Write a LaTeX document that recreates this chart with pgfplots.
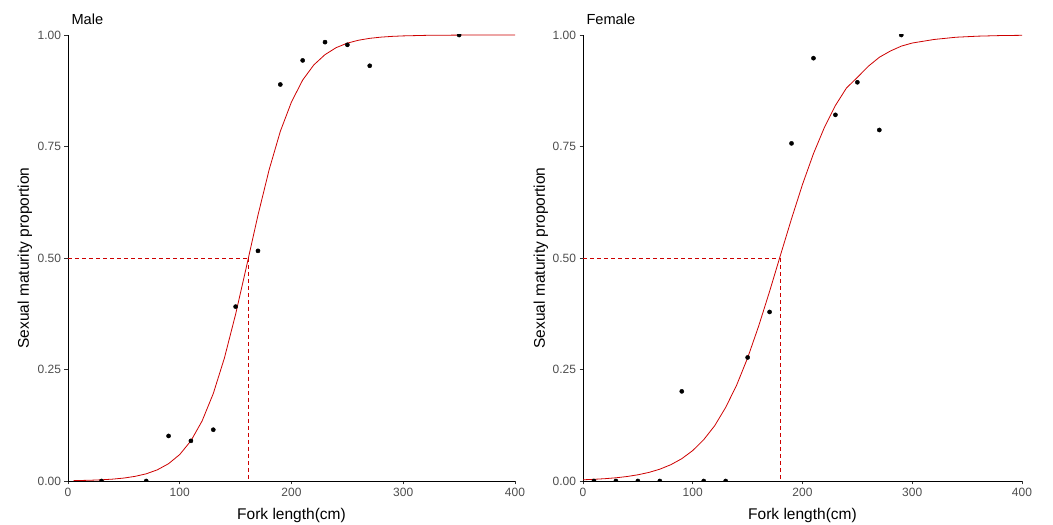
\documentclass[border=0pt]{standalone}
\usepackage{pgfplots}
\pgfplotsset{compat=1.18}
\usepackage{fontspec}
\setmainfont{Liberation Sans}
\definecolor{fitred}{RGB}{205,0,0}
\definecolor{ticktext}{RGB}{77,77,77}

\pgfplotsset{
  matpanel/.style={
    scale only axis, height=446pt,
    xmin=0, xmax=400, ymin=0, ymax=1,
    axis lines=left,
    axis line style={-, line width=0.8pt, black},
    tick align=outside, major tick length=3.5pt,
    tick style={line width=0.8pt, black!80},
    xtick={0,100,...,400}, ytick={0,0.25,0.5,0.75,1},
    /pgf/number format/assume math mode=true,
    y tick label style={/pgf/number format/.cd, fixed, fixed zerofill, precision=2, /tikz/.cd},
    ticklabel style={font=\fontsize{12}{14}\selectfont, text=ticktext},
    label style={font=\fontsize{15.5}{18}\selectfont},
    xlabel={Fork length(cm)}, ylabel={Sexual maturity proportion},
    xlabel style={at={(axis description cs:0.5,-0.0852)}, anchor=base},
    title style={font=\fontsize{14.6}{17}\selectfont, at={(axis description cs:0,1.011)}, anchor=base west},
    clip mode=individual, clip marker paths=true,
  }
}

\begin{document}
\begin{tikzpicture}
\useasboundingbox (0,0) rectangle (1053pt,525pt);

% Male
\begin{axis}[matpanel, width=447pt, at={(68pt,44pt)}, anchor=south west,
  title={Male},
  ylabel style={at={(axis description cs:-0.0873,0.5)}, anchor=base}]
\addplot[color=fitred, line width=0.8pt, no marks] table {
x p
5 0.0009
10 0.0011
20 0.0017
30 0.0027
40 0.0042
50 0.0066
60 0.0104
70 0.0161
80 0.0251
90 0.0388
100 0.0594
110 0.0901
120 0.1346
130 0.196
140 0.276
150 0.374
160 0.484
170 0.596
180 0.698
190 0.784
200 0.850
210 0.899
220 0.933
230 0.956
240 0.9717
250 0.9818
260 0.9883
270 0.9925
280 0.9952
290 0.9969
300 0.998
320 0.9992
350 0.9998
400 1.0
};
\addplot[color=fitred, line width=0.9pt, dash pattern=on 4pt off 3pt, no marks]
  coordinates {(0,0.5) (161.4,0.5)};
\addplot[color=fitred, line width=0.9pt, dash pattern=on 4pt off 3pt, no marks]
  coordinates {(161.4,0.5) (161.4,0)};
\addplot[only marks, mark=*, mark size=2.1pt, color=black, mark options={fill=black}] table {
x p
30 0
70 0
90 0.101
110 0.090
130 0.115
150 0.391
170 0.516
190 0.889
210 0.943
230 0.984
250 0.978
270 0.931
350 1.0
};
\end{axis}

% Female
\begin{axis}[matpanel, width=439pt, at={(583pt,44pt)}, anchor=south west,
  title={Female},
  ylabel style={at={(axis description cs:-0.0866,0.5)}, anchor=base}]
\addplot[color=fitred, line width=0.8pt, no marks] table {
x p
0 0.0027
10 0.0038
20 0.0052
30 0.0072
40 0.0100
50 0.0139
60 0.0192
70 0.0265
80 0.0365
90 0.0500
100 0.0683
110 0.0926
120 0.124
130 0.165
140 0.215
150 0.276
160 0.347
170 0.425
180 0.507
190 0.588
200 0.665
210 0.734
220 0.793
230 0.842
240 0.881
250 0.905
260 0.930
270 0.950
280 0.964
290 0.975
300 0.982
320 0.990
340 0.995
360 0.9974
380 0.9987
400 0.9993
};
\addplot[color=fitred, line width=0.9pt, dash pattern=on 4pt off 3pt, no marks]
  coordinates {(0,0.5) (179.5,0.5)};
\addplot[color=fitred, line width=0.9pt, dash pattern=on 4pt off 3pt, no marks]
  coordinates {(179.5,0.5) (179.5,0)};
\addplot[only marks, mark=*, mark size=2.1pt, color=black, mark options={fill=black}] table {
x p
10 0
30 0
50 0
70 0
90 0.201
110 0
130 0
150 0.277
170 0.379
190 0.757
210 0.948
230 0.821
250 0.894
270 0.787
290 1.0
};
\end{axis}
\end{tikzpicture}
\end{document}
